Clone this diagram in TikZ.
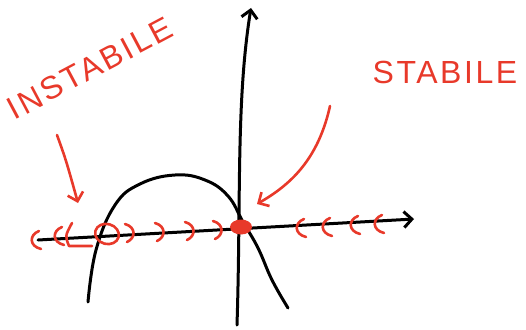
\documentclass[tikz,border=0pt]{standalone}
\usepackage{fontspec}
\setsansfont{Liberation Sans}[LetterSpace=8]
\usetikzlibrary{arrows.meta, calc, shapes.geometric}
\definecolor{penred}{HTML}{E8392A}

\begin{document}
\begin{tikzpicture}[x=1pt, y=-1pt, >={Straight Barb[length=8pt, width=16pt]},
  every node/.style={font=\sffamily\fontsize{32}{34}\selectfont, text=penred},
  ink/.style={line width=3pt, line cap=round, line join=round},
  redink/.style={line width=2.6pt, line cap=round, line join=round, draw=penred},
  eqdot/.style={ellipse, fill=penred, minimum width=22pt, minimum height=15pt, inner sep=0pt}]
  \useasboundingbox (0,0) rectangle (526,329);
  % axes
  \coordinate (xstart) at (38,240);
  \coordinate (xend) at (414,219);
  \coordinate (ystart) at (237,325);
  \coordinate (yend) at (251,8);
  \draw[ink, ->] (xstart) -- (xend);
  \draw[ink, ->] (ystart) .. controls (241,200) and (236,100) .. (yend);
  % the function
  \draw[ink] plot[smooth, tension=0.7] coordinates {(88,302) (96,250) (115,205) (140,184) (175,175) (205,180) (228,196) (243,222) (258,248) (272,280) (288,308)};
  % flow on the axis
  \foreach \cx/\cy in {33/240, 56/236, 298/228, 324/227, 352/225, 376/224}
    \draw[redink] (\cx+6,\cy-9) .. controls (\cx-4,\cy-5) and (\cx-4,\cy+6) .. (\cx+8,\cy+9);
  \draw[redink] (72,223) .. controls (65,236) .. (69,246) -- (92,246);
  \draw[redink, rotate around={-15:(107,234)}] (107,234) ellipse [x radius=12, y radius=10];
  \foreach \cx/\cy in {131/233, 161/232, 191/231, 219/230}
    \draw[redink] (\cx-6,\cy-9) .. controls (\cx+5,\cy-6) and (\cx+5,\cy+5) .. (\cx-4,\cy+9);
  \node[eqdot] (eq) at (241,227) {};
  % labels
  \node[rotate=28] (instabile) at (90,68) {INSTABILE};
  \node (stabile) at (445,72) {STABILE};
  \coordinate (lstart) at (57,135);
  \coordinate (ltip) at (78,203);
  \coordinate (rstart) at (330,106);
  \coordinate (rtip) at (257,204);
  \draw[redink, ->] (lstart) .. controls (66,160) .. (ltip);
  \draw[redink, ->] (rstart) .. controls (318,160) and (290,185) .. (rtip);
\end{tikzpicture}
\end{document}
